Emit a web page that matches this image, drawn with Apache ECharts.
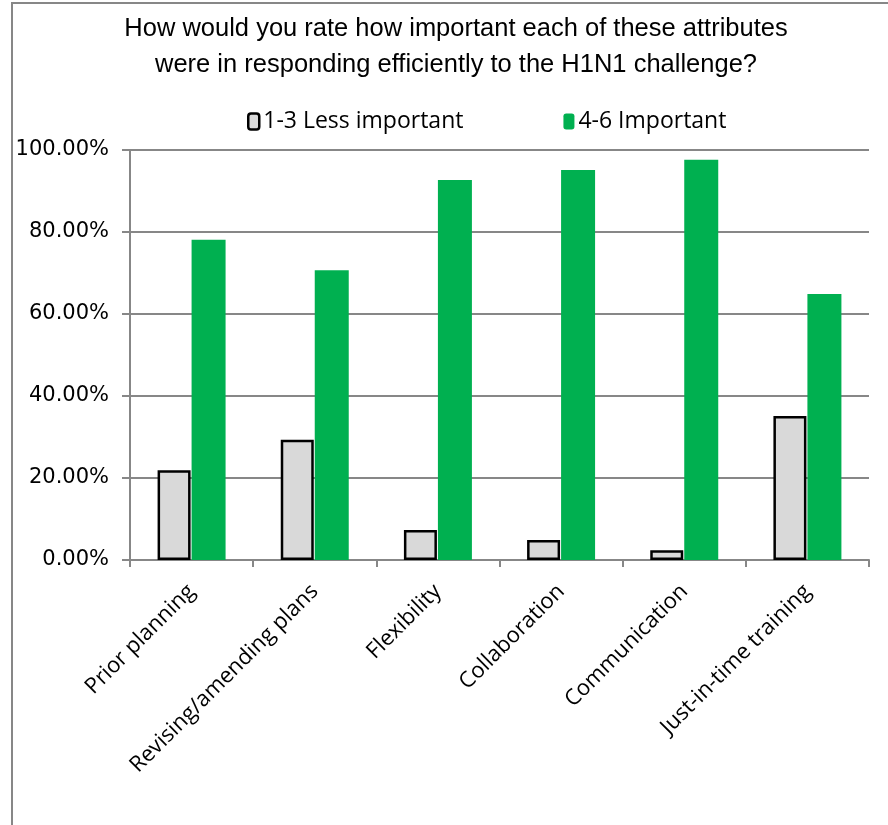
<!DOCTYPE html>
<html><head><meta charset="utf-8">
<script src="https://cdn.jsdelivr.net/npm/echarts@6/dist/echarts.min.js"></script>
<style>html,body{margin:0;padding:0;background:#fff}#c{width:888px;height:825px}</style>
</head><body><div id="c"></div>
<script>
const categories = ['Prior planning','Revising/amending plans','Flexibility','Collaboration','Communication','Just-in-time training'];
const lessImportant = [21.9, 29.3, 7.3, 4.9, 2.4, 35.1];
const important = [78.1, 70.7, 92.7, 95.1, 97.6, 64.9];
const seriesNames = ['1-3 Less important','4-6 Important'];
const titleLines = ['How would you rate how important each of these attributes','were in responding efficiently to the H1N1 challenge?'];

const chart = echarts.init(document.getElementById('c'), null, {renderer:'canvas'});
const font = 'Open Sans';
const titleStyle = {fontFamily:'Liberation Sans',fontSize:25,fill:'#000',textAlign:'center',verticalAlign:'middle'};
chart.setOption({
  animation:false,
  backgroundColor:'#fff',
  graphic:[
    {type:'rect',shape:{x:12,y:3,width:1000,height:1000},style:{fill:'none',stroke:'#878787',lineWidth:2},silent:true},
    {type:'text',x:456,y:29,scaleX:1.02,style:Object.assign({text:titleLines[0]},titleStyle),silent:true},
    {type:'text',x:456,y:65,scaleX:1.02,style:Object.assign({text:titleLines[1]},titleStyle),silent:true}
  ],
  legend:{top:105,left:242,itemGap:100,itemWidth:11,itemHeight:16,
    textStyle:{fontFamily:font,fontSize:23,color:'#000',padding:[0,0,0,-1]},
    data:[{name:seriesNames[0],itemStyle:{color:'#d9d9d9',borderColor:'#000',borderWidth:2.5}},{name:seriesNames[1],itemStyle:{color:'#00b050'}}]},
  grid:{left:130,right:19,top:150,bottom:265,containLabel:false},
  xAxis:{type:'category',data:categories,
    axisLine:{lineStyle:{color:'#878787',width:2}},
    axisTick:{show:true,length:7,lineStyle:{color:'#878787',width:2}},
    axisLabel:{rotate:45,margin:28,fontFamily:font,fontSize:22,color:'#000',interval:0}},
  yAxis:{type:'value',min:0,max:100,interval:20,
    axisLine:{show:true,lineStyle:{color:'#878787',width:2}},
    axisTick:{show:true,inside:false,length:8,lineStyle:{color:'#878787',width:2}},
    splitLine:{lineStyle:{color:'#878787',width:2}},
    axisLabel:{formatter:v=>v.toFixed(2)+'%',fontFamily:'DejaVu Sans',fontSize:21,color:'#000',margin:21}},
  series:[
    {name:seriesNames[0],type:'bar',data:lessImportant,barWidth:33,barGap:'3%',
      itemStyle:{color:'#d9d9d9',borderColor:'#000',borderWidth:2.5}},
    {name:seriesNames[1],type:'bar',data:important,barWidth:34,
      itemStyle:{color:'#00b050'}}
  ]
});
</script></body></html>
